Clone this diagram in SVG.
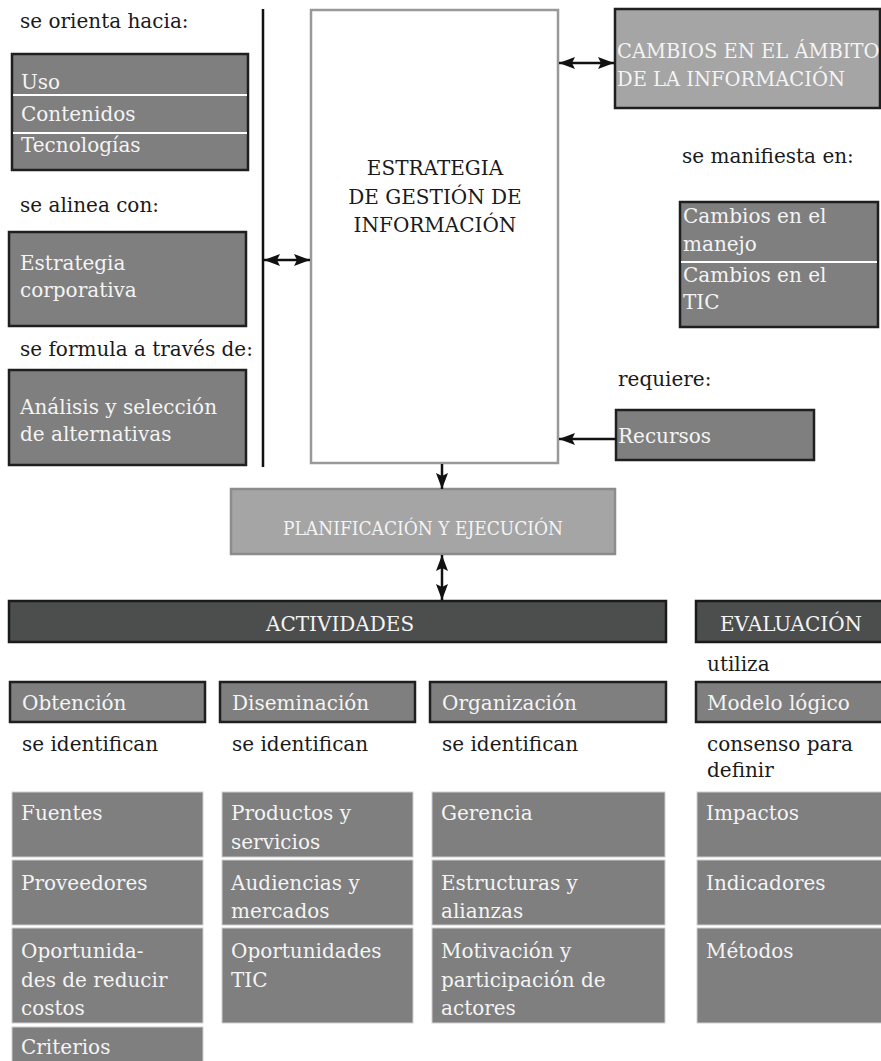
<svg xmlns="http://www.w3.org/2000/svg" width="881" height="1061" viewBox="0 0 881 1061">
  <defs>
    <style>
      text { font-family: "DejaVu Serif", "Liberation Serif", serif; font-size: 20px; }
      .lbl { fill: #1a1a1a; }
      .w { fill: #f4f4f4; }
      .caps { font-size: 19.5px; }
      .cond { font-family: "DejaVu Serif Condensed", "DejaVu Serif", serif; font-size: 19px; }
      .dark { fill: #7f7f7f; stroke: #1f1f1f; stroke-width: 2.5; }
      .light { fill: #a5a5a5; stroke: #1f1f1f; stroke-width: 2.5; }
      .bar { fill: #4c4e4e; stroke: #1a1a1a; stroke-width: 2.5; }
      .cell { fill: #7f7f7f; stroke: #cfcfcf; stroke-width: 1; }
      .sep { stroke: #ffffff; stroke-width: 2; }
      .conn { stroke: #111111; stroke-width: 2.5; fill: none; }
    </style>
    <marker id="ah" viewBox="0 0 16 12" refX="16" refY="6" markerWidth="16" markerHeight="12" markerUnits="userSpaceOnUse" orient="auto-start-reverse">
      <path d="M0,0 L16,6 L0,12 L3,6 z" fill="#111111"/>
    </marker>
  </defs>

  <!-- left column: orientation, alignment, formulation -->
  <g id="orienta">
    <text class="lbl" x="20" y="28">se orienta hacia:</text>
    <rect class="dark" x="12" y="54" width="236" height="116"/>
    <line class="sep" x1="13" y1="95" x2="247" y2="95"/>
    <line class="sep" x1="13" y1="133" x2="247" y2="133"/>
    <text class="w" x="21" y="89">Uso</text>
    <text class="w" x="21" y="121">Contenidos</text>
    <text class="w" x="21" y="152">Tecnologías</text>
  </g>

  <g id="alinea">
    <text class="lbl" x="20" y="212">se alinea con:</text>
    <rect class="dark" x="9" y="232" width="237" height="94"/>
    <text class="w" x="20" y="270">Estrategia</text>
    <text class="w" x="20" y="297">corporativa</text>
  </g>

  <g id="formula">
    <text class="lbl" x="20" y="356">se formula a través de:</text>
    <rect class="dark" x="9" y="370" width="237" height="95"/>
    <text class="w" x="20" y="414">Análisis y selección</text>
    <text class="w" x="20" y="441">de alternativas</text>
  </g>

  <!-- central strategy block -->
  <g id="estrategia">
    <rect x="311" y="10" width="247" height="453" fill="#ffffff" stroke="#999999" stroke-width="2.5"/>
    <text class="lbl" x="435" y="175" text-anchor="middle">ESTRATEGIA</text>
    <text class="lbl" x="435" y="204" text-anchor="middle">DE GESTIÓN DE</text>
    <text class="lbl" x="435" y="232" text-anchor="middle">INFORMACIÓN</text>
  </g>

  <!-- right column -->
  <g id="cambios">
    <rect class="light" x="615" y="9" width="265" height="99"/>
    <text class="w caps" x="617" y="58">CAMBIOS EN EL ÁMBITO</text>
    <text class="w caps" x="617" y="86">DE LA INFORMACIÓN</text>
  </g>

  <g id="manifiesta">
    <text class="lbl" x="682" y="163">se manifiesta en:</text>
    <rect class="dark" x="680" y="202" width="198" height="125"/>
    <line class="sep" x1="681" y1="262" x2="877" y2="262"/>
    <text class="w" x="683" y="223">Cambios en el</text>
    <text class="w" x="683" y="251">manejo</text>
    <text class="w" x="683" y="282">Cambios en el</text>
    <text class="w" x="683" y="309">TIC</text>
  </g>

  <g id="recursos">
    <text class="lbl" x="618" y="386">requiere:</text>
    <rect class="dark" x="616" y="410" width="198" height="50"/>
    <text class="w" x="618" y="443">Recursos</text>
  </g>

  <!-- planning -->
  <g id="planificacion">
    <rect x="231" y="489" width="384" height="65" fill="#a5a5a5" stroke="#8c8c8c" stroke-width="2.5"/>
    <text class="w cond" x="423" y="535" text-anchor="middle">PLANIFICACIÓN Y EJECUCIÓN</text>
  </g>

  <!-- header bars -->
  <g id="actividades">
    <rect class="bar" x="9" y="601" width="657" height="41"/>
    <text class="w" x="266" y="631">ACTIVIDADES</text>
  </g>

  <g id="evaluacion">
    <rect class="bar" x="696" y="601" width="187" height="41"/>
    <text class="w" x="720" y="631">EVALUACIÓN</text>
  </g>

  <!-- activity: obtención -->
  <g id="obtencion">
    <rect class="dark" x="10" y="682" width="195" height="40"/>
    <text class="w" x="22" y="710">Obtención</text>
    <text class="lbl" x="22" y="751">se identifican</text>
    <rect class="cell" x="12" y="792" width="191" height="65"/>
    <text class="w" x="21" y="820">Fuentes</text>
    <rect class="cell" x="12" y="860" width="191" height="65"/>
    <text class="w" x="21" y="890">Proveedores</text>
    <rect class="cell" x="12" y="928" width="191" height="95"/>
    <text class="w" x="21" y="958">Oportunida-</text>
    <text class="w" x="21" y="987">des de reducir</text>
    <text class="w" x="21" y="1015">costos</text>
    <rect class="cell" x="12" y="1027" width="191" height="40"/>
    <text class="w" x="21" y="1054">Criterios</text>
  </g>

  <!-- activity: diseminación -->
  <g id="diseminacion">
    <rect class="dark" x="220" y="682" width="195" height="40"/>
    <text class="w" x="232" y="710">Diseminación</text>
    <text class="lbl" x="232" y="751">se identifican</text>
    <rect class="cell" x="222" y="792" width="191" height="65"/>
    <text class="w" x="231" y="820">Productos y</text>
    <text class="w" x="231" y="849">servicios</text>
    <rect class="cell" x="222" y="860" width="191" height="65"/>
    <text class="w" x="231" y="890">Audiencias y</text>
    <text class="w" x="231" y="918">mercados</text>
    <rect class="cell" x="222" y="928" width="191" height="95"/>
    <text class="w" x="231" y="958">Oportunidades</text>
    <text class="w" x="231" y="987">TIC</text>
  </g>

  <!-- activity: organización -->
  <g id="organizacion">
    <rect class="dark" x="430" y="682" width="236" height="40"/>
    <text class="w" x="442" y="710">Organización</text>
    <text class="lbl" x="442" y="751">se identifican</text>
    <rect class="cell" x="432" y="792" width="233" height="65"/>
    <text class="w" x="441" y="820">Gerencia</text>
    <rect class="cell" x="432" y="860" width="233" height="65"/>
    <text class="w" x="441" y="890">Estructuras y</text>
    <text class="w" x="441" y="918">alianzas</text>
    <rect class="cell" x="432" y="928" width="233" height="95"/>
    <text class="w" x="441" y="958">Motivación y</text>
    <text class="w" x="441" y="987">participación de</text>
    <text class="w" x="441" y="1015">actores</text>
  </g>

  <!-- evaluation column -->
  <g id="modelo">
    <text class="lbl" x="707" y="671">utiliza</text>
    <rect class="dark" x="696" y="682" width="187" height="40"/>
    <text class="w" x="707" y="710">Modelo lógico</text>
    <text class="lbl" x="707" y="751">consenso para</text>
    <text class="lbl" x="707" y="777">definir</text>
    <rect class="cell" x="697" y="792" width="186" height="65"/>
    <text class="w" x="706" y="820">Impactos</text>
    <rect class="cell" x="697" y="860" width="186" height="65"/>
    <text class="w" x="706" y="890">Indicadores</text>
    <rect class="cell" x="697" y="928" width="186" height="95"/>
    <text class="w" x="706" y="958">Métodos</text>
  </g>

  <!-- connectors -->
  <g id="connectors">
    <line class="conn" x1="263" y1="9" x2="263" y2="467"/>
    <line class="conn" x1="264" y1="260" x2="310" y2="260" marker-start="url(#ah)" marker-end="url(#ah)"/>
    <line class="conn" x1="559" y1="63" x2="614" y2="63" marker-start="url(#ah)" marker-end="url(#ah)"/>
    <line class="conn" x1="616" y1="439" x2="559" y2="439" marker-end="url(#ah)"/>
    <line class="conn" x1="442" y1="464" x2="442" y2="489" marker-end="url(#ah)"/>
    <line class="conn" x1="442" y1="555" x2="442" y2="600" marker-start="url(#ah)" marker-end="url(#ah)"/>
  </g>
</svg>
